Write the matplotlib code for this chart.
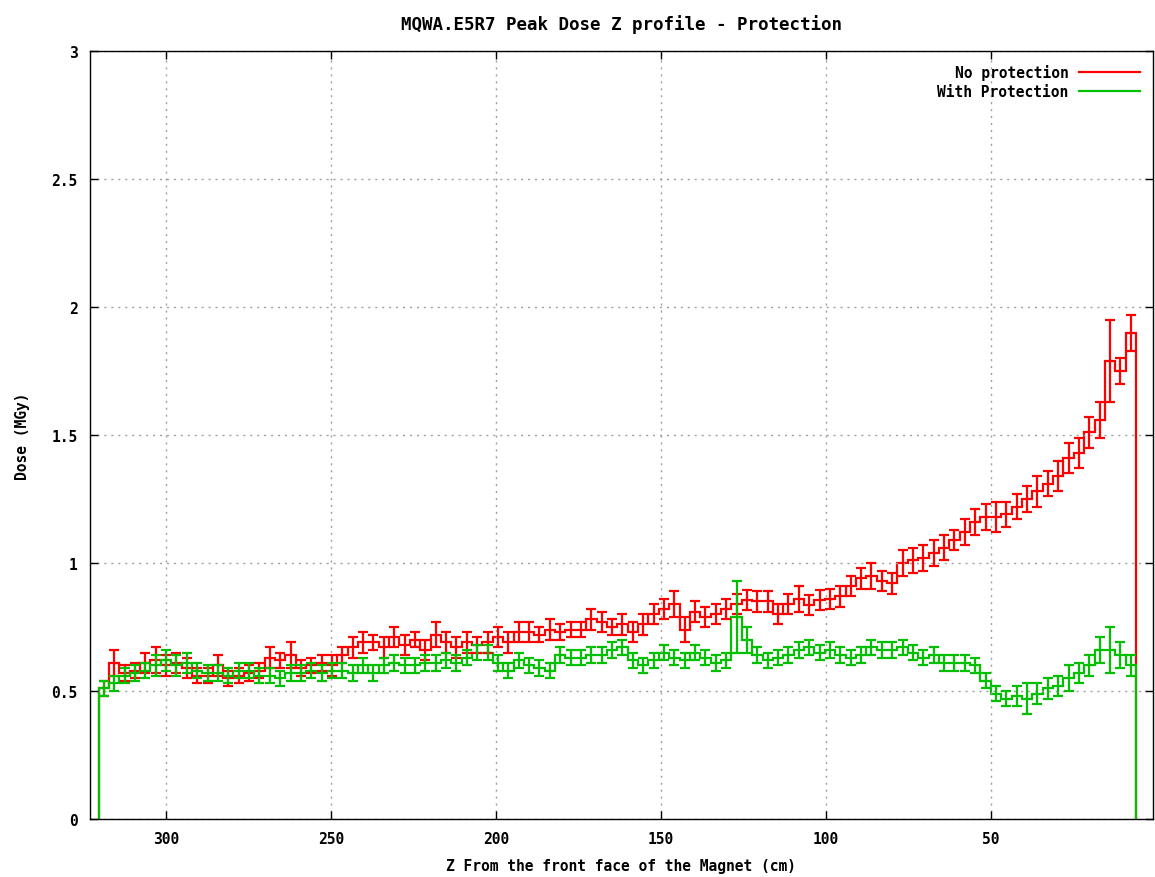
"""
Peak dose Z profile along MQWA.E5R7, with and without protection.
"""
import numpy as np

import matplotlib
matplotlib.use('Agg')
import matplotlib.pyplot as plt
from matplotlib.lines import Line2D

# binning along Z (cm from the front face), first bin is the far end
z_far, z_near, n_bins = 320.4, 6.0, 100

dose_noprot = [
    0.51, 0.61, 0.57, 0.58, 0.61, 0.62, 0.60, 0.61, 0.59, 0.56,
    0.56, 0.60, 0.55, 0.56, 0.57, 0.58, 0.63, 0.62, 0.64, 0.59,
    0.60, 0.61, 0.60, 0.64, 0.67, 0.69, 0.69, 0.67, 0.71, 0.68,
    0.70, 0.66, 0.72, 0.69, 0.67, 0.69, 0.68, 0.69, 0.71, 0.69,
    0.73, 0.73, 0.72, 0.74, 0.73, 0.74, 0.74, 0.78, 0.77, 0.75,
    0.76, 0.73, 0.76, 0.80, 0.82, 0.84, 0.74, 0.81, 0.79, 0.80,
    0.82, 0.84, 0.855, 0.85, 0.85, 0.80, 0.84, 0.86, 0.835, 0.855,
    0.86, 0.87, 0.91, 0.94, 0.95, 0.93, 0.92, 1.00, 1.01, 1.02,
    1.04, 1.06, 1.09, 1.12, 1.16, 1.18, 1.18, 1.19, 1.22, 1.25,
    1.28, 1.31, 1.34, 1.41, 1.43, 1.51, 1.56, 1.79, 1.75, 1.90,
]
err_noprot = [
    0.03, 0.05, 0.03, 0.03, 0.04, 0.05, 0.04, 0.04, 0.04, 0.03,
    0.03, 0.04, 0.03, 0.03, 0.03, 0.03, 0.04, 0.03, 0.05, 0.03,
    0.03, 0.03, 0.04, 0.03, 0.04, 0.04, 0.03, 0.04, 0.04, 0.04,
    0.03, 0.04, 0.05, 0.04, 0.04, 0.04, 0.03, 0.04, 0.04, 0.04,
    0.04, 0.04, 0.03, 0.04, 0.03, 0.03, 0.03, 0.04, 0.04, 0.03,
    0.04, 0.04, 0.04, 0.04, 0.04, 0.05, 0.05, 0.04, 0.04, 0.04,
    0.04, 0.04, 0.04, 0.04, 0.04, 0.04, 0.04, 0.05, 0.04, 0.04,
    0.04, 0.04, 0.04, 0.04, 0.05, 0.04, 0.04, 0.05, 0.05, 0.05,
    0.05, 0.05, 0.04, 0.05, 0.05, 0.05, 0.06, 0.05, 0.05, 0.05,
    0.06, 0.05, 0.06, 0.06, 0.06, 0.06, 0.07, 0.16, 0.05, 0.07,
]

dose_prot = [
    0.51, 0.53, 0.56, 0.57, 0.58, 0.60, 0.62, 0.60, 0.61, 0.58,
    0.57, 0.57, 0.56, 0.58, 0.58, 0.56, 0.56, 0.55, 0.57, 0.57,
    0.58, 0.57, 0.58, 0.58, 0.57, 0.60, 0.57, 0.60, 0.61, 0.60,
    0.60, 0.61, 0.61, 0.62, 0.61, 0.63, 0.65, 0.65, 0.61, 0.58,
    0.62, 0.60, 0.59, 0.58, 0.64, 0.63, 0.63, 0.64, 0.64, 0.66,
    0.67, 0.62, 0.60, 0.62, 0.65, 0.63, 0.62, 0.65, 0.63, 0.61,
    0.62, 0.79, 0.70, 0.64, 0.62, 0.63, 0.64, 0.66, 0.67, 0.65,
    0.66, 0.64, 0.63, 0.64, 0.67, 0.66, 0.66, 0.67, 0.65, 0.63,
    0.64, 0.61, 0.61, 0.61, 0.60, 0.54, 0.49, 0.47, 0.48, 0.47,
    0.49, 0.51, 0.52, 0.55, 0.57, 0.60, 0.66, 0.66, 0.64, 0.60,
]
err_prot = [
    0.03, 0.03, 0.03, 0.03, 0.03, 0.04, 0.04, 0.04, 0.04, 0.03,
    0.03, 0.03, 0.03, 0.03, 0.03, 0.03, 0.03, 0.03, 0.03, 0.03,
    0.03, 0.03, 0.03, 0.03, 0.03, 0.03, 0.03, 0.03, 0.03, 0.03,
    0.03, 0.03, 0.03, 0.03, 0.03, 0.03, 0.03, 0.03, 0.03, 0.03,
    0.03, 0.03, 0.03, 0.03, 0.03, 0.03, 0.03, 0.03, 0.03, 0.03,
    0.03, 0.03, 0.03, 0.03, 0.03, 0.03, 0.03, 0.03, 0.03, 0.03,
    0.03, 0.14, 0.05, 0.03, 0.03, 0.03, 0.03, 0.03, 0.03, 0.03,
    0.03, 0.03, 0.03, 0.03, 0.03, 0.03, 0.03, 0.03, 0.03, 0.03,
    0.03, 0.03, 0.03, 0.03, 0.03, 0.03, 0.03, 0.03, 0.04, 0.06,
    0.04, 0.04, 0.04, 0.05, 0.04, 0.04, 0.05, 0.09, 0.05, 0.04,
]

x_ticks = [300, 250, 200, 150, 100, 50]
y_ticks = [0, 0.5, 1, 1.5, 2, 2.5, 3]
y_labels = ['0', '0.5', '1', '1.5', '2', '2.5', '3']

RED = '#ff0000'
GREEN = '#00c000'

plt.rcParams['font.family'] = ['DejaVu Sans Mono']
plt.rcParams['font.weight'] = 'bold'
plt.rcParams['axes.titleweight'] = 'bold'
plt.rcParams['axes.labelweight'] = 'bold'
plt.rcParams['font.size'] = 10.5

edges = np.linspace(z_far, z_near, n_bins + 1)
centers = 0.5 * (edges[:-1] + edges[1:])

fig = plt.figure(figsize=(11.55, 8.78), dpi=100)
ax = fig.add_axes([90 / 1155, 1 - 820 / 878, 1063 / 1155, 768 / 878])

for dose, err, col in [(dose_noprot, err_noprot, RED), (dose_prot, err_prot, GREEN)]:
    dose = np.asarray(dose)
    ax.stairs(dose[::-1], edges[::-1], baseline=0, color=col, lw=1.6)
    ax.errorbar(centers, dose, yerr=err, fmt='none', ecolor=col,
                elinewidth=1.6, capsize=3.6, capthick=1.6)

ax.set_xlim(323.0, 0.85)
ax.set_ylim(0, 3)
ax.set_xticks(x_ticks)
ax.set_yticks(y_ticks)
ax.set_yticklabels(y_labels)
ax.tick_params(direction='in', length=6, width=1, top=True, right=True,
               pad=9)
ax.grid(True, color='#a0a0a0', linestyle=(0, (1.5, 3.5)), lw=1)
for sp in ax.spines.values():
    sp.set_linewidth(1)

ax.set_title('MQWA.E5R7 Peak Dose Z profile - Protection', pad=16)
ax.set_xlabel('Z From the front face of the Magnet (cm)', labelpad=8)
ax.set_ylabel('Dose (MGy)', labelpad=15)

handles = [Line2D([], [], color=RED, lw=1.6), Line2D([], [], color=GREEN, lw=1.6)]
ax.legend(handles, ['No protection', 'With Protection'], loc='upper right',
          frameon=False, markerfirst=False, handlelength=4.2,
          labelspacing=0.25, handletextpad=0.7, borderaxespad=0.5)

plt.savefig('out.png', dpi=100)
